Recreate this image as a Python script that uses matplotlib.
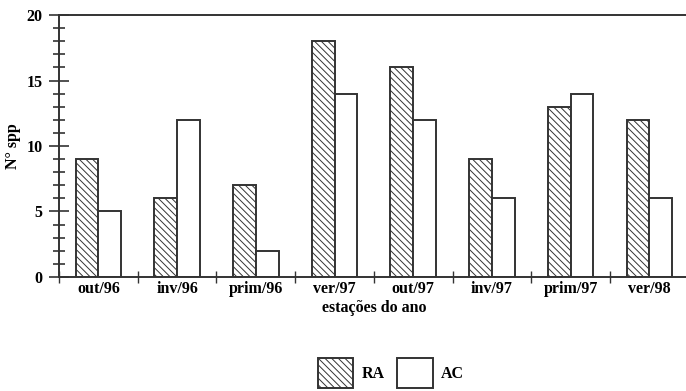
import numpy as np
import matplotlib.pyplot as plt
from matplotlib.ticker import MultipleLocator

# dados
estacoes = ['out/96', 'inv/96', 'prim/96', 'ver/97', 'out/97', 'inv/97', 'prim/97', 'ver/98']
ra = [9, 6, 7, 18, 16, 9, 13, 12]
ac = [5, 12, 2, 14, 12, 6, 14, 6]

plt.rcParams['font.family'] = ['Liberation Serif', 'DejaVu Serif']
plt.rcParams['font.weight'] = 'bold'
plt.rcParams['hatch.linewidth'] = 0.7
plt.rcParams['hatch.color'] = '#333333'

fig = plt.figure(figsize=(6.86, 3.91), dpi=100)
ax = fig.add_axes([0.086, 0.2916, 0.918, 0.670])

x = np.arange(len(estacoes)) + 0.5
w = 0.29
edge = '#333333'
b1 = ax.bar(x - w / 2, ra, w, color='white', edgecolor=edge, hatch='\\\\\\\\\\', linewidth=1.4, label='RA')
b2 = ax.bar(x + w / 2, ac, w, color='white', edgecolor=edge, linewidth=1.4, label='AC')

ax.set_xlim(0, 8)
ax.set_ylim(0, 20)
ax.spines['right'].set_visible(False)
for s in ['left', 'bottom', 'top']:
    ax.spines[s].set_color(edge)
    ax.spines[s].set_linewidth(1.4)

ax.yaxis.set_major_locator(MultipleLocator(5))
ax.yaxis.set_minor_locator(MultipleLocator(1))
ax.tick_params(axis='y', which='major', direction='inout', length=14, width=1.2, color=edge,
               labelsize=11.5, pad=5)
ax.tick_params(axis='y', which='minor', direction='inout', length=8.5, width=1.2, color=edge)

ax.set_xticks(np.arange(0, 9))
ax.set_xticklabels([])
ax.set_xticks(x, minor=True)
ax.set_xticklabels(estacoes, minor=True, fontsize=11.5, fontweight='bold')
ax.tick_params(axis='x', which='major', direction='inout', length=9, width=1.0, color=edge)
ax.tick_params(axis='x', which='minor', length=0, pad=3)

ax.set_ylabel('N° spp', fontsize=11.5, fontweight='bold', labelpad=4)
ax.set_xlabel('estações do ano', fontsize=11.5, fontweight='bold', labelpad=2)
for t in ax.get_yticklabels():
    t.set_fontweight('bold')

fig.legend(handles=[b1, b2], loc='center', bbox_to_anchor=(0.57, 0.045), ncol=2, frameon=False,
           fontsize=11.5, handlelength=2.2, handleheight=2.5, handletextpad=0.55, columnspacing=0.8)

plt.savefig('out.png', dpi=100)
